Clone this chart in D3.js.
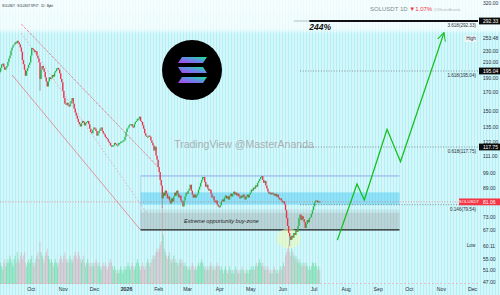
<!DOCTYPE html>
<html>
<head>
  <meta charset="utf-8">
  <style>
  body {
    margin: 0;
    background: #ffffff;
  }
  svg {
    display: block;
    font-family: "Liberation Sans", Arial, sans-serif;
  }
  .axis .domain {
    display: none;
  }
  .axis text {
    fill: #2a2e39;
  }
  </style>
</head>
<body>
  <div id="chart"></div>

  <script src="https://d3js.org/d3.v7.min.js"></script>
  <script>
  // daily closes, one array per month (SOLUSDT, Bybit)
  var firstOpen = 192;
  var sepCloses = [194,200,206,207,202,197,200,203,210,216,221,230,236,240,242,246,244,249,246,242,236,228,213,206,197,189,195,200,205,209];
  var octCloses = [221,235,233,231,227,229,221,216,209,185,197,203,199,194,187,182,176,182,187,185,186,190,188,193,195,199,200,197,192,185,181];
  var novCloses = [171,163,157,156,158,155,154,157,160,163,157,152,148,145,142,139,137,135,138,140,139,136,138,139,140,137,133,130,129,132];
  var decCloses = [134,133,131,127,129,131,133,134,131,129,128,126,125,124,122,121,119,118,119,119,121,120,119,119,121,121,122,122,123,123,126];
  var janCloses = [130,133,134,136,137,137,135,134,137,139,140,142,142,144,140,139,136,133,129,127,126,126,127,126,123,121,119,115,118,111,108];
  var febCloses = [102.7,99.3,94.1,90.6,83,86.3,84.6,87.5,85.7,83,84.1,81.8,80.2,83,81.3,84.1,86.3,84.6,87.5,85.7,83.5,84.6,81.8,80.8,78.6,81.8,84.1,86.3];
  var marCloses = [85.7,87.5,88.7,91.1,87.5,85.2,83.5,85.2,83.5,84.6,85.7,88.1,89.9,92.3,94.1,96,96,92.8,89.9,91.1,88.7,87.5,88.1,85.7,83.5,84.1,81.8,80.8,81.8,79.7,78.6];
  var aprCloses = [78.1,79.2,81.3,82.4,81.3,83.5,84.6,83,84.1,82.4,84.6,85.7,84.1,85.7,86.9,85.2,86.3,84.6,85.7,84.1,83,84.6,83.5,85.2,84.1,82.4,84.1,85.2,83.5,85.2];
  var mayCloses = [86.3,88.1,87.5,89.3,88.7,90.6,89.9,92.3,93.5,94.7,96,96.6,94.1,92.3,93.5,90.6,88.7,86.9,85.7,86.3,85.2,86.3,85.7,84.6,85.7,84.1,85.2,83.5,82.4,83,81.8];
  var junCloses = [80.8,81.3,79.7,76.6,72.6,68.8,65.6,64,62.6,64.4,63.5,65.6,64.7,67,66.1,68.8,72.6,74.3,71.6,73.5,72.1,70.6,67.9,69.7,71.6,70.6,72.6,73,74.7,76.6];
  var julCloses = [78.6,80.8,81.8,81.8,80.8,81.3,81.06];

  // daily volume (millions SOL), same months
  var sepVol = [5,6,5,4,6,7,5,6,7,6,8,7,6,5,7,8,6,9,7,6,8,9,7,8,9,6,5,6,7,6];
  var octVol = [7,8,6,5,6,7,8,9,7,12,9,8,7,6,8,9,10,8,7,6,7,6,5,6,7,6,5,6,7,8,7];
  var novVol = [6,8,9,7,6,7,6,8,7,6,7,8,9,8,7,9,8,7,6,7,8,6,5,6,7,6,5,6,5,6];
  var decVol = [5,6,7,6,5,6,5,4,5,6,5,6,5,4,5,6,7,6,5,4,5,4,3,4,3,4,5,4,3,4,5];
  var janVol = [4,5,6,5,4,5,6,5,4,5,6,7,6,5,4,5,6,5,4,5,6,7,6,5,6,7,8,7,8,9,10];
  var febVol = [9,10,11,12,22,14,10,9,8,7,8,9,7,6,7,8,6,7,6,5,6,7,6,7,6,5,6,5];
  var marVol = [5,4,5,4,5,6,5,4,5,4,5,6,5,6,7,6,5,4,5,4,5,4,5,6,5,4,5,4,5,6,5];
  var aprVol = [5,4,5,4,3,4,5,4,3,4,5,4,3,4,3,4,5,4,3,4,3,4,5,4,3,4,3,4,3,4];
  var mayVol = [4,5,4,5,4,5,6,5,6,7,6,5,6,5,4,5,4,5,4,3,4,3,4,5,4,3,4,3,4,5,4];
  var junVol = [5,6,5,8,9,10,11,9,8,10,9,8,7,8,7,6,7,6,5,6,5,6,5,6,5,4,5,4,5,6];
  var julVol = [6,5,6,5,4,5,4];

  var monthStarts = ["2025-09-01","2025-10-01","2025-11-01","2025-12-01","2026-01-01","2026-02-01",
                     "2026-03-01","2026-04-01","2026-05-01","2026-06-01","2026-07-01"];
  var closeBlocks = [sepCloses, octCloses, novCloses, decCloses, janCloses, febCloses,
                     marCloses, aprCloses, mayCloses, junCloses, julCloses];
  var volBlocks = [sepVol, octVol, novVol, decVol, janVol, febVol,
                   marVol, aprVol, mayVol, junVol, julVol];

  // a few long lower wicks
  var wickDates = ["2025-10-10", "2026-02-05", "2026-06-08"];
  var wickLows = [171, 77.6, 60.11];

  // descending channel (start date, start price, end date, end price)
  var channelStart = ["2025-09-22", "2025-09-22", "2025-09-13"];
  var channelStartPrice = [285, 265, 190];
  var channelEnd = ["2026-02-01", "2026-01-21", "2026-01-15"];
  var channelEndPrice = [102.8, 75.2, 67];

  // buy zone
  var zoneFrom = "2026-01-15", zoneTo = "2026-09-22";
  var zoneTop = 96.7, zoneCyan = [79.5, 86.5], zoneGrey = [67, 75.3], zoneGreyLight = [75.3, 77], zoneFloor = 67;

  // fib levels
  var fibRatios = ["0.146", "0.618", "1.618"];
  var fibPrices = [79.54, 117.75, 195.04];
  var fibFrom = "2026-06-18";
  var targetRatio = "3.618", targetPrice = 292.33, targetFrom = "2026-06-27", targetPct = "244%";

  // projected path
  var projDates = ["2026-07-24","2026-08-12","2026-08-19","2026-09-10","2026-09-23","2026-11-04"];
  var projPrices = [62.5, 91.6, 82.1, 132.4, 106.5, 266];

  // price axis
  var priceTicks = [320, 230, 210, 190, 170, 150, 135, 122, 111, 99, 89, 73, 67, 55, 51, 47];
  var lastPrice = 81.06, highPrice = 253.48, lowPrice = 60.11;
  var monthTicks = ["2025-10-01","2025-11-01","2025-12-01","2026-01-01","2026-02-01","2026-03-01","2026-04-01",
                    "2026-05-01","2026-06-01","2026-07-01","2026-08-01","2026-09-01","2026-10-01","2026-11-01","2026-12-01"];

  var W = 500, H = 295, plotRight = 478, plotBottom = 284;
  var parse = d3.timeParse("%Y-%m-%d");

  // build candles
  var candles = [];
  var prev = firstOpen;
  monthStarts.forEach(function(s, b){
    var start = parse(s);
    closeBlocks[b].forEach(function(c, i){
      candles.push({date: d3.timeDay.offset(start, i), open: prev, close: c, vol: volBlocks[b][i]});
      prev = c;
    });
  });

  var x = d3.scaleTime()
    .domain([parse("2025-10-01"), parse("2026-12-01")])
    .range([30.7, 472]);

  // log price scale, TradingView squeezed the top part a bit
  var y = d3.scaleLog()
    .domain([47, 117.75, 195.04, 292.33, 320])
    .range([282, 147, 71, 21, 3]);

  var vy = d3.scaleLinear().domain([0, 22]).range([plotBottom, 206]);

  var svg = d3.select("#chart").append("svg")
      .attr("width", W)
      .attr("height", H);

  var defs = svg.append("defs");

  // striped cyan background
  var pat = defs.append("pattern")
      .attr("id", "stripes")
      .attr("width", 3).attr("height", 4)
      .attr("patternUnits", "userSpaceOnUse");
  pat.append("rect").attr("width", 3).attr("height", 4).attr("fill", "#d6f7fa");
  pat.append("rect").attr("width", 1).attr("height", 4).attr("fill", "#b2eff6");

  var fade = defs.append("linearGradient")
      .attr("id", "fade").attr("x1", 0).attr("x2", 0).attr("y1", 0).attr("y2", 1);
  fade.append("stop").attr("offset", "0%").attr("stop-color", "#fff").attr("stop-opacity", 0.78);
  fade.append("stop").attr("offset", "85%").attr("stop-color", "#fff").attr("stop-opacity", 0.7);
  fade.append("stop").attr("offset", "100%").attr("stop-color", "#fff").attr("stop-opacity", 0);

  var sol = defs.append("linearGradient")
      .attr("id", "sol").attr("x1", 0).attr("y1", 1).attr("x2", 1).attr("y2", 0);
  sol.append("stop").attr("offset", "0%").attr("stop-color", "#b13ff0");
  sol.append("stop").attr("offset", "55%").attr("stop-color", "#5f8fe2");
  sol.append("stop").attr("offset", "100%").attr("stop-color", "#17e98f");

  defs.append("clipPath").attr("id", "plot")
    .append("rect").attr("width", plotRight).attr("height", plotBottom);

  defs.append("marker")
      .attr("id", "arrow")
      .attr("viewBox", "0 0 10 10")
      .attr("refX", 9).attr("refY", 5)
      .attr("markerWidth", 7).attr("markerHeight", 7)
      .attr("orient", "auto")
    .append("path")
      .attr("d", "M0,0.5 L9,5 L0,9.5")
      .attr("fill", "none")
      .attr("stroke", "#12c21e")
      .attr("stroke-width", 1.1);

  svg.append("rect").attr("width", W).attr("height", H).attr("fill", "url(#stripes)");
  svg.append("rect").attr("width", W).attr("height", 34).attr("fill", "url(#fade)");

  var g = svg.append("g").attr("clip-path", "url(#plot)");

  // watermark
  g.append("text")
      .attr("x", 244).attr("y", 148)
      .attr("text-anchor", "middle")
      .style("font-size", "10.5px")
      .style("fill", "#a9b0b3")
      .text("TradingView @MasterAnanda");

  // solana logo
  var logo = g.append("g").attr("transform", "translate(192,70)");
  logo.append("circle").attr("r", 30).attr("fill", "#000");
  var bars = logo.append("g").attr("fill", "url(#sol)");
  bars.append("path").attr("d", "M-10,-13 L15,-13 L11,-7 L-14,-7 Z");
  bars.append("path").attr("d", "M-14,-3 L11,-3 L15,3 L-10,3 Z");
  bars.append("path").attr("d", "M-10,7 L15,7 L11,13 L-14,13 Z");

  // buy zone
  var zx0 = x(parse(zoneFrom)), zx1 = x(parse(zoneTo));
  g.append("rect")
      .attr("x", zx0).attr("width", zx1 - zx0)
      .attr("y", y(zoneGreyLight[1])).attr("height", y(zoneGreyLight[0]) - y(zoneGreyLight[1]))
      .attr("fill", "rgba(150,150,150,0.16)");
  g.append("rect")
      .attr("x", zx0).attr("width", zx1 - zx0)
      .attr("y", y(zoneGrey[1])).attr("height", y(zoneGrey[0]) - y(zoneGrey[1]))
      .attr("fill", "rgba(140,140,140,0.33)");
  g.append("rect")
      .attr("x", zx0).attr("width", zx1 - zx0)
      .attr("y", y(zoneCyan[1])).attr("height", y(zoneCyan[0]) - y(zoneCyan[1]))
      .attr("fill", "rgba(40,190,240,0.38)");
  g.append("line")
      .attr("x1", zx0).attr("x2", zx1)
      .attr("y1", y(zoneTop)).attr("y2", y(zoneTop))
      .attr("stroke", "#93a9ee").attr("stroke-width", 1);
  g.append("line")
      .attr("x1", zx0).attr("x2", zx0)
      .attr("y1", y(zoneTop)).attr("y2", y(zoneFloor))
      .attr("stroke", "#b6c6f0").attr("stroke-width", 0.6);
  g.append("line")
      .attr("x1", zx0).attr("x2", zx1)
      .attr("y1", y(zoneFloor)).attr("y2", y(zoneFloor))
      .attr("stroke", "#1e1e1e").attr("stroke-width", 1.3);
  g.append("text")
      .attr("x", x(parse("2026-04-03"))).attr("y", y(71)).attr("dy", "0.35em")
      .attr("text-anchor", "middle")
      .style("font-size", "5.6px").style("font-style", "italic")
      .style("fill", "#222")
      .text("Extreme opportunity buy-zone");

  // channel
  var chStyles = [{dash: "3,1", op: 0.75}, {dash: "1.5,2", op: 0.5}, {dash: null, op: 0.7}];
  channelStart.forEach(function(s, i){
    g.append("line")
        .attr("x1", x(parse(s))).attr("y1", y(channelStartPrice[i]))
        .attr("x2", x(parse(channelEnd[i]))).attr("y2", y(channelEndPrice[i]))
        .attr("stroke", "#f0475a")
        .attr("stroke-opacity", chStyles[i].op)
        .attr("stroke-width", 0.8)
        .attr("stroke-dasharray", chStyles[i].dash);
  });

  // fib levels
  fibPrices.forEach(function(p, i){
    g.append("line")
        .attr("x1", x(parse(fibFrom))).attr("x2", plotRight)
        .attr("y1", y(p)).attr("y2", y(p))
        .attr("stroke", "#555").attr("stroke-opacity", 0.75)
        .attr("stroke-width", 0.8).attr("stroke-dasharray", "1,1.6");
    g.append("text")
        .attr("x", 476).attr("y", y(p) + 6)
        .attr("text-anchor", "end")
        .style("font-size", "4.6px").style("fill", "#2a2e39")
        .text(fibRatios[i] + "(" + p.toFixed(2) + ")");
  });

  var ty = y(targetPrice);
  g.append("line")
      .attr("x1", x(parse("2026-06-12"))).attr("x2", x(parse(targetFrom)))
      .attr("y1", ty).attr("y2", ty)
      .attr("stroke", "#9fb2c0").attr("stroke-width", 0.8);
  g.append("line")
      .attr("x1", x(parse(targetFrom))).attr("x2", plotRight)
      .attr("y1", ty).attr("y2", ty)
      .attr("stroke", "#111").attr("stroke-width", 1.8);
  g.append("text")
      .attr("x", 476).attr("y", ty + 6)
      .attr("text-anchor", "end")
      .style("font-size", "4.6px").style("fill", "#2a2e39")
      .text(targetRatio + "(" + targetPrice.toFixed(2) + ")");
  g.append("text")
      .attr("x", x(parse(targetFrom))).attr("y", ty + 9)
      .style("font-size", "8.5px").style("font-weight", "bold").style("font-style", "italic")
      .style("fill", "#111")
      .text(targetPct);

  // shaded bottom around the June low
  g.append("ellipse")
      .attr("cx", x(parse("2026-06-07"))).attr("cy", y(63.2))
      .attr("rx", 12).attr("ry", 10)
      .attr("fill", "rgba(240,250,180,0.55)");

  // volume
  g.selectAll("rect.vol")
      .data(candles)
    .enter().append("rect")
      .attr("class", "vol")
      .attr("x", function(d){ return x(d.date) - 0.6; })
      .attr("width", 1.2)
      .attr("y", function(d){ return vy(d.vol); })
      .attr("height", function(d){ return plotBottom - vy(d.vol); })
      .attr("fill", function(d){ return d.close >= d.open ? "rgba(40,200,100,0.32)" : "rgba(225,110,125,0.27)"; });

  // wicks
  wickDates.forEach(function(s, i){
    var c = candles.find(function(d){ return +d.date === +parse(s); });
    g.append("line")
        .attr("x1", x(c.date)).attr("x2", x(c.date))
        .attr("y1", y(Math.min(c.open, c.close))).attr("y2", y(wickLows[i]))
        .attr("stroke", "#8a8a8a").attr("stroke-width", 0.8);
  });

  // candles
  g.selectAll("rect.candle")
      .data(candles)
    .enter().append("rect")
      .attr("class", "candle")
      .attr("x", function(d){ return x(d.date) - 0.7; })
      .attr("width", 1.4)
      .attr("y", function(d){ return y(Math.max(d.open, d.close)); })
      .attr("height", function(d){ return Math.max(1, Math.abs(y(d.open) - y(d.close))); })
      .attr("fill", function(d){ return d.close >= d.open ? "#1fb84a" : "#e8344c"; });

  // last price line
  g.append("line")
      .attr("x1", 0).attr("x2", plotRight)
      .attr("y1", y(lastPrice)).attr("y2", y(lastPrice))
      .attr("stroke", "#f23645").attr("stroke-opacity", 0.6)
      .attr("stroke-width", 0.8).attr("stroke-dasharray", "1,1.6");

  // bottom border line
  g.append("line")
      .attr("x1", 0).attr("x2", plotRight)
      .attr("y1", plotBottom - 0.5).attr("y2", plotBottom - 0.5)
      .attr("stroke", "#f2a0aa").attr("stroke-width", 0.6).attr("stroke-dasharray", "2,2");

  // projection
  var proj = projDates.map(function(s, i){ return [x(parse(s)), y(projPrices[i])]; });
  svg.append("path")
      .attr("d", d3.line()(proj))
      .attr("fill", "none")
      .attr("stroke", "#12c21e")
      .attr("stroke-width", 1.3)
      .attr("marker-end", "url(#arrow)");

  // time axis
  var xAxis = d3.axisBottom(x)
      .tickValues(monthTicks.map(parse))
      .tickSize(0)
      .tickPadding(3)
      .tickFormat(function(d){ return d.getMonth() === 0 ? d3.timeFormat("%Y")(d) : d3.timeFormat("%b")(d); });
  svg.append("g")
      .attr("class", "axis")
      .attr("transform", "translate(0," + plotBottom + ")")
      .call(xAxis)
      .selectAll("text")
      .style("font-size", "5.2px")
      .style("font-weight", function(d){ return d.getMonth() === 0 ? "bold" : "normal"; });

  // price axis
  var yAxis = d3.axisRight(y)
      .tickValues(priceTicks)
      .tickSize(0)
      .tickPadding(3)
      .tickFormat(d3.format(".2f"));
  svg.append("g")
      .attr("class", "axis")
      .attr("transform", "translate(480,0)")
      .call(yAxis)
      .selectAll("text")
      .style("font-size", "5px")
      .attr("dy", function(d){ return d === 190 ? "0.95em" : "0.32em"; });

  // price axis boxes
  function priceBox(p, fill){
    svg.append("rect")
        .attr("x", 479).attr("y", y(p) - 3.4)
        .attr("width", 21).attr("height", 6.8)
        .attr("fill", fill);
    svg.append("text")
        .attr("x", 483).attr("y", y(p)).attr("dy", "0.35em")
        .style("font-size", "5px").style("fill", "#fff")
        .text(p.toFixed(2));
  }
  [targetPrice, 195.04, 117.75].forEach(function(p){ priceBox(p, "#0c0c0c"); });
  priceBox(lastPrice, "#f23645");
  svg.append("rect")
      .attr("x", 459).attr("y", y(lastPrice) - 3.4)
      .attr("width", 20).attr("height", 6.8)
      .attr("fill", "#f23645");
  svg.append("text")
      .attr("x", 469).attr("y", y(lastPrice)).attr("dy", "0.35em")
      .attr("text-anchor", "middle")
      .style("font-size", "4.3px").style("fill", "#fff")
      .text("SOLUSDT");

  // high / low
  svg.append("rect")
      .attr("x", 465).attr("y", y(highPrice) - 3.3)
      .attr("width", 12).attr("height", 6.6)
      .attr("fill", "#eef3f6");
  svg.append("text")
      .attr("x", 471).attr("y", y(highPrice)).attr("dy", "0.35em")
      .attr("text-anchor", "middle")
      .style("font-size", "4.6px").style("fill", "#2a2e39")
      .text("High");
  svg.append("text")
      .attr("x", 483).attr("y", y(highPrice)).attr("dy", "0.35em")
      .style("font-size", "5px").style("fill", "#2a2e39")
      .text(highPrice.toFixed(2));
  svg.append("text")
      .attr("x", 471).attr("y", y(lowPrice)).attr("dy", "0.35em")
      .attr("text-anchor", "middle")
      .style("font-size", "4.6px").style("fill", "#2a2e39")
      .text("Low");
  svg.append("text")
      .attr("x", 483).attr("y", y(lowPrice)).attr("dy", "0.35em")
      .style("font-size", "5px").style("fill", "#2a2e39")
      .text(lowPrice.toFixed(2));

  // header texts
  svg.append("text")
      .attr("x", 2).attr("y", 6.5)
      .attr("textLength", 51).attr("lengthAdjust", "spacingAndGlyphs")
      .style("font-size", "4px").style("fill", "#1a1a1a")
      .text("SOLUSDT · SOLUSDT SPOT · 1D · Bybit");

  var hdr = svg.append("text")
      .attr("x", 370).attr("y", 11)
      .style("font-size", "6px");
  hdr.append("tspan").style("fill", "#7c8c92").text("SOLUSDT 1D ");
  hdr.append("tspan").style("fill", "#f23645").text("▼1.07% ");
  hdr.append("tspan").style("fill", "#b3bcc0").style("font-size", "3.4px").text("(@MasterAnanda");
  </script>
</body>
</html>
